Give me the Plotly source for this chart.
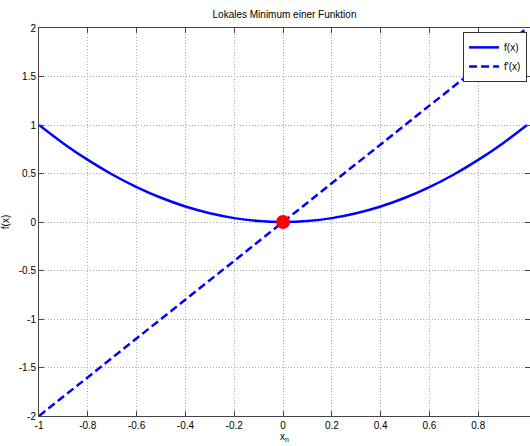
import plotly.graph_objects as go

# f(x) samples
x_f = [-1.0, -0.9, -0.8, -0.7, -0.6, -0.5, -0.4, -0.3, -0.2, -0.1, 0.0,
       0.1, 0.2, 0.3, 0.4, 0.5, 0.6, 0.7, 0.8, 0.9, 1.0]
y_f = [1.0, 0.81, 0.64, 0.49, 0.36, 0.25, 0.16, 0.09, 0.04, 0.01, 0.0,
       0.01, 0.04, 0.09, 0.16, 0.25, 0.36, 0.49, 0.64, 0.81, 1.0]
# f'(x)
x_d = [-1.0, 1.0]
y_d = [-2.0, 2.0]
# minimum point
x_min = [0.0]
y_min = [0.0]

x_ticks = [-1, -0.8, -0.6, -0.4, -0.2, 0, 0.2, 0.4, 0.6, 0.8]
x_ticktext = ["-1", "-0.8", "-0.6", "-0.4", "-0.2", "0", "0.2", "0.4", "0.6", "0.8"]
y_ticks = [-2, -1.5, -1, -0.5, 0, 0.5, 1, 1.5, 2]
y_ticktext = ["-2", "-1.5", "-1", "-0.5", "0", "0.5", "1", "1.5", "2"]

fig = go.Figure()
fig.add_trace(go.Scatter(x=x_f, y=y_f, mode="lines", name="f(x)",
                         line=dict(color="#0000ff", width=2.5, shape="spline")))
fig.add_trace(go.Scatter(x=x_d, y=y_d, mode="lines", name="f'(x)",
                         line=dict(color="#0000ff", width=2.5, dash="8px,4px")))
fig.add_trace(go.Scatter(x=x_min, y=y_min, mode="markers", showlegend=False,
                         marker=dict(color="#ff0000", size=14)))

font = "Liberation Sans, Arial, Helvetica, sans-serif"
fig.update_layout(
    width=530, height=446,
    margin=dict(l=39, r=0, t=28, b=30),
    paper_bgcolor="white", plot_bgcolor="white",
    font=dict(family=font, size=10, color="black"),
    title=dict(text="Lokales Minimum einer Funktion", x=0.5, xanchor="center",
               xref="paper", y=1, yref="container", yanchor="top", pad=dict(t=11),
               font=dict(size=10)),
    showlegend=True,
    legend=dict(x=0.994, y=0.99, xanchor="right", yanchor="top",
                bgcolor="white", bordercolor="#333333", borderwidth=1,
                font=dict(size=10), tracegroupgap=0, itemwidth=30),
    xaxis=dict(range=[-1, 1.012], tickvals=x_ticks, ticktext=x_ticktext,
               showgrid=True, gridcolor="#aaaaaa", griddash="1px,2px", gridwidth=1,
               zeroline=False, showline=True, linecolor="#444444", linewidth=1,
               mirror="ticks", ticks="inside", ticklen=5, tickcolor="#444444",
               automargin=False,
               title=dict(text="x<sub>n</sub>", standoff=2, font=dict(size=10))),
    yaxis=dict(range=[-2, 2], tickvals=y_ticks, ticktext=y_ticktext,
               showgrid=True, gridcolor="#aaaaaa", griddash="1px,2px", gridwidth=1,
               zeroline=False, showline=True, linecolor="#444444", linewidth=1,
               mirror="ticks", ticks="inside", ticklen=5, tickcolor="#444444",
               automargin=False,
               title=dict(text="f(x)", standoff=10, font=dict(size=10))),
)

fig.write_html(
    "out.html",
    config={"displayModeBar": False},
    post_script="document.body.style.margin='0';document.body.style.overflow='hidden';",
)
